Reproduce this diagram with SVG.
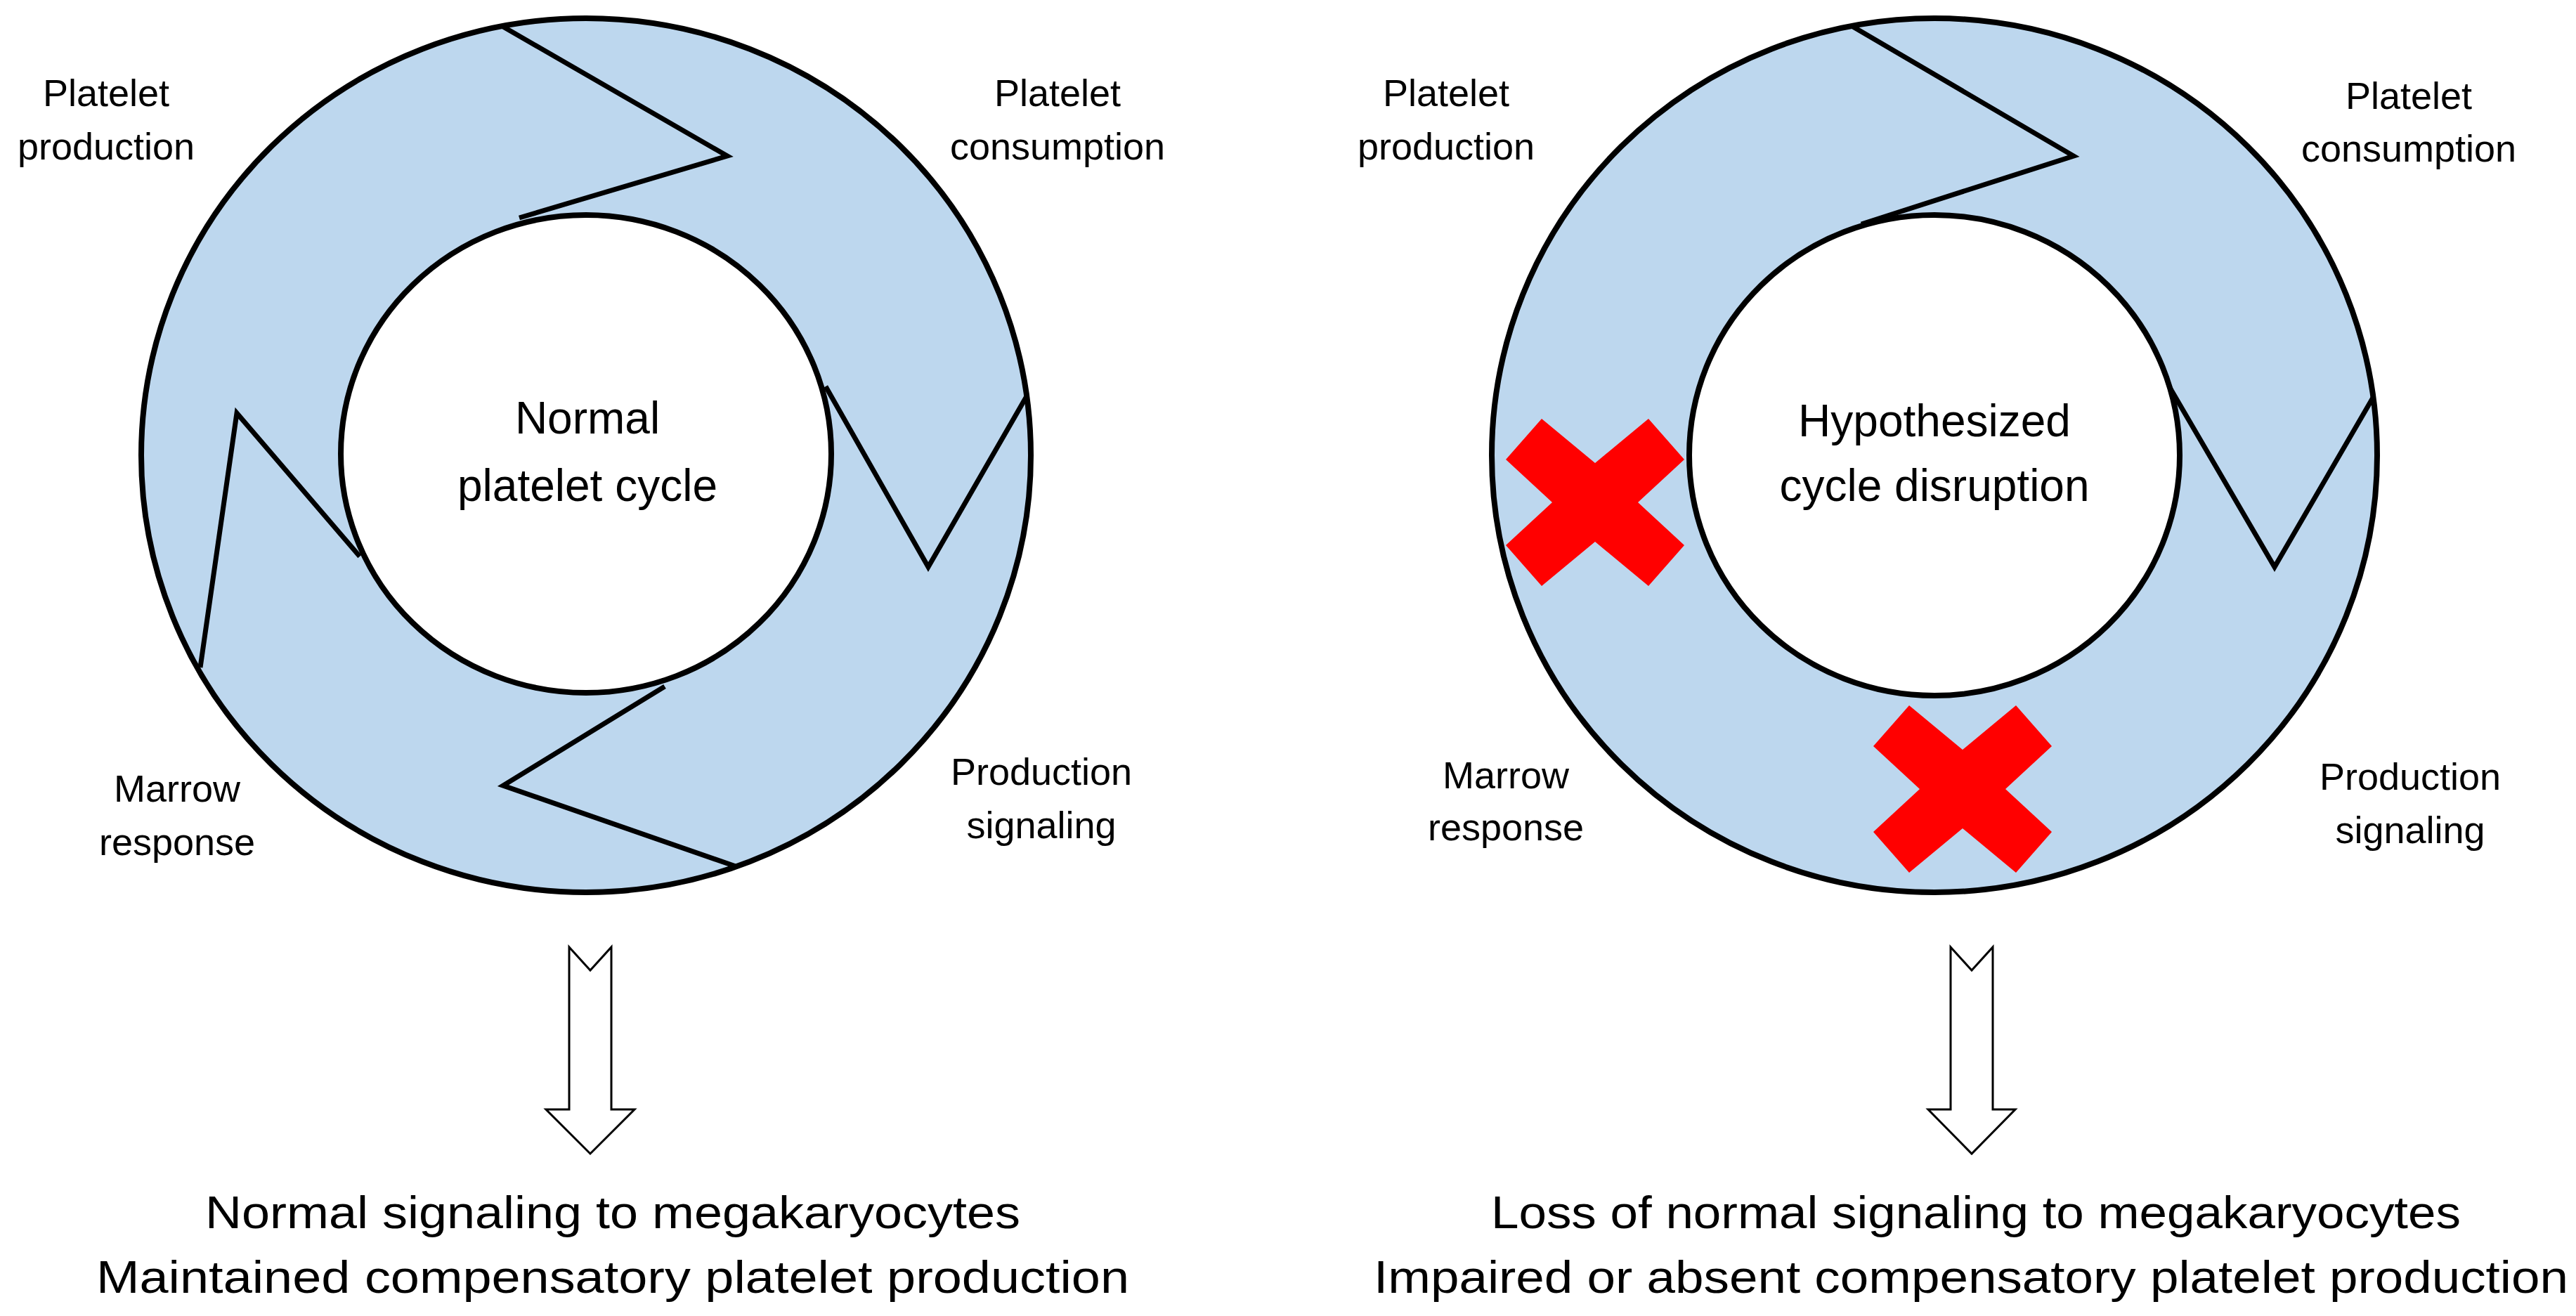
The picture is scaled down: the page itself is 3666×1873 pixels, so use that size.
<svg xmlns="http://www.w3.org/2000/svg" width="3666" height="1873" viewBox="0 0 3666 1873">
<style>
.ring{fill:#bdd7ee;stroke:#000;stroke-width:8}
.hole{fill:#fff;stroke:#000;stroke-width:8}
.chev{fill:none;stroke:#000;stroke-width:7;stroke-linejoin:miter}
.lbl{font-family:"Liberation Sans",Arial,sans-serif;font-size:54px;fill:#000;text-anchor:middle}
.ctr{font-family:"Liberation Sans",Arial,sans-serif;font-size:64px;fill:#000;text-anchor:middle}
.bot{font-family:"Liberation Sans",Arial,sans-serif;font-size:64px;fill:#000;text-anchor:middle}
.x{fill:#ff0000}
.arr{fill:#fff;stroke:#000;stroke-width:3}
</style>
<rect width="3666" height="1873" fill="#fff"/>
<g id="cycle-left">
<ellipse class="ring" cx="834" cy="648" rx="633" ry="622"/>
<ellipse class="hole" cx="834" cy="646" rx="349" ry="340"/>
<text class="ctr" x="836" y="617">Normal</text>
<text class="ctr" x="836" y="713">platelet cycle</text>
</g>
<g id="cycle-right">
<ellipse class="ring" cx="2753" cy="648" rx="630" ry="622"/>
<ellipse class="hole" cx="2753" cy="648" rx="349" ry="342"/>
<text class="ctr" x="2753" y="621">Hypothesized</text>
<text class="ctr" x="2753" y="713">cycle disruption</text>
</g>
<g id="connectors">
<polyline class="chev" points="716,38 1035,222 739,310"/>
<polyline class="chev" points="1461,564 1321,807 1175,550"/>
<polyline class="chev" points="1047,1233 716,1118 946,977"/>
<polyline class="chev" points="285,950 337,588 512,792"/>
<polyline class="chev" points="2637,38 2951,222 2649,319"/>
<polyline class="chev" points="3377,566 3237,807 3087,550"/>
<polygon class="arr" points="810,1348 840,1381 870,1348 870,1579 903,1579 840,1642 777,1579 810,1579"/>
<polygon class="arr" points="2776,1348 2806,1381 2836,1348 2836,1579 2868,1579 2806,1642 2744,1579 2776,1579"/>
</g>
<g id="labels-left">
<text class="lbl" x="151" y="151">Platelet</text>
<text class="lbl" x="151" y="227">production</text>
<text class="lbl" x="1505" y="151">Platelet</text>
<text class="lbl" x="1505" y="227">consumption</text>
<text class="lbl" x="252" y="1141">Marrow</text>
<text class="lbl" x="252" y="1217">response</text>
<text class="lbl" x="1482" y="1117">Production</text>
<text class="lbl" x="1482" y="1193">signaling</text>
</g>
<g id="labels-right">
<text class="lbl" x="2058" y="151">Platelet</text>
<text class="lbl" x="2058" y="227">production</text>
<text class="lbl" x="3428" y="155">Platelet</text>
<text class="lbl" x="3428" y="230">consumption</text>
<text class="lbl" x="2143" y="1122">Marrow</text>
<text class="lbl" x="2143" y="1196">response</text>
<text class="lbl" x="3430" y="1124">Production</text>
<text class="lbl" x="3430" y="1200">signaling</text>
</g>
<g id="cross-1"><polygon class="x" transform="translate(2270,715)" points="-127,-61 -76,-119 0,-56 76,-119 127,-61 61,0 127,61 76,119 0,56 -76,119 -127,61 -61,0"/></g>
<g id="cross-2"><polygon class="x" transform="translate(2793,1123)" points="-127,-61 -76,-119 0,-56 76,-119 127,-61 61,0 127,61 76,119 0,56 -76,119 -127,61 -61,0"/></g>
<g id="result-left">
<text class="bot" x="872" y="1748" textLength="1160" lengthAdjust="spacingAndGlyphs">Normal signaling to megakaryocytes</text>
<text class="bot" x="872" y="1840" textLength="1470" lengthAdjust="spacingAndGlyphs">Maintained compensatory platelet production</text>
</g>
<g id="result-right">
<text class="bot" x="2812" y="1748" textLength="1380" lengthAdjust="spacingAndGlyphs">Loss of normal signaling to megakaryocytes</text>
<text class="bot" x="2805" y="1840" textLength="1700" lengthAdjust="spacingAndGlyphs">Impaired or absent compensatory platelet production</text>
</g>
</svg>
